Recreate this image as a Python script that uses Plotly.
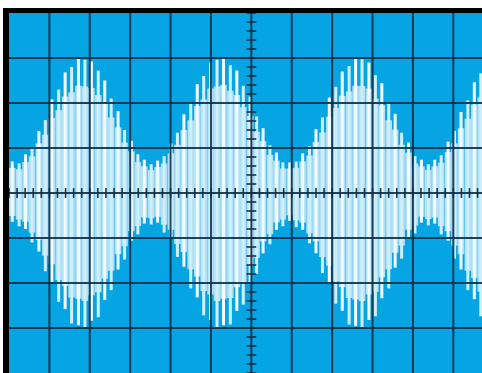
import numpy as np
import plotly.graph_objects as go

# sample positions on the screen, in divisions from the centre
t_div = [-5.92, -5.75, -5.59, -5.43, -5.26, -5.10, -4.94, -4.77, -4.61, -4.45, -4.28, -4.12,
         -3.96, -3.79, -3.63, -3.47, -3.30, -3.14, -2.97, -2.81, -2.65, -2.48, -2.32, -2.16,
         -1.99, -1.83, -1.67, -1.50, -1.34, -1.18, -1.01, -0.85, -0.69, -0.52, -0.36, -0.20,
         -0.03, 0.13, 0.29, 0.46, 0.62, 0.78, 0.95, 1.11, 1.27, 1.44, 1.60, 1.76,
         1.93, 2.09, 2.25, 2.42, 2.58, 2.74, 2.91, 3.07, 3.23, 3.40, 3.56, 3.72,
         3.89, 4.05, 4.21, 4.38, 4.54, 4.70, 4.87, 5.03, 5.19, 5.36, 5.52, 5.68]

# positive carrier peaks (div)
peak_hi = [0.70, 0.66, 0.86, 1.02, 1.38, 1.62, 2.08, 2.30, 2.68, 2.80, 2.98, 2.96, 2.92, 2.72, 2.50, 2.10, 1.82, 1.40, 1.16, 0.86, 0.74,
           0.64, 0.72, 0.82, 1.10, 1.34, 1.75, 2.02, 2.42, 2.60, 2.90, 2.96, 3.00, 2.84, 2.72, 2.38, 2.14, 1.70, 1.44, 1.06, 0.90, 0.68,
           0.68, 0.70, 0.88, 1.04, 1.42, 1.68, 2.12, 2.36, 2.70, 2.82, 2.98, 2.97, 2.90, 2.62, 2.44, 2.02, 1.76, 1.34, 1.12, 0.82, 0.74,
           0.64, 0.74, 0.84, 1.14, 1.38, 1.80, 2.06, 2.46, 2.66]

# negative carrier peaks (div, magnitude)
peak_lo = [0.64, 0.74, 0.80, 1.10, 1.30, 1.74, 1.98, 2.42, 2.58, 2.90, 2.94, 3.00, 2.84, 2.76, 2.38, 2.16, 1.70, 1.48, 1.06, 0.92, 0.68,
           0.70, 0.66, 0.88, 1.02, 1.42, 1.64, 2.12, 2.32, 2.72, 2.82, 3.00, 2.94, 2.92, 2.62, 2.48, 2.00, 1.80, 1.34, 1.14, 0.82, 0.74,
           0.62, 0.76, 0.82, 1.12, 1.34, 1.78, 2.02, 2.46, 2.62, 2.92, 2.96, 3.00, 2.82, 2.74, 2.34, 2.12, 1.66, 1.46, 1.02, 0.90, 0.66,
           0.72, 0.68, 0.92, 1.06, 1.46, 1.70, 2.16, 2.36, 2.74]

hi = np.array(peak_hi)
lo = np.array(peak_lo)

BG = "#05a4e2"
GRID = "rgba(14,45,72,0.9)"

fig = go.Figure()

# pale trace glow
fig.add_trace(go.Bar(x=t_div, y=0.8 * (hi + lo), base=-0.8 * lo, width=0.163,
                     marker=dict(color="#b2e0f5", line=dict(width=0)), hoverinfo="skip"))
# bright strokes
cols = ["#f0fcff" if i % 2 == 0 else "#cdeffb" for i in range(len(t_div))]
fig.add_trace(go.Bar(x=t_div, y=hi + lo, base=-lo, width=0.075,
                     marker=dict(color=cols, line=dict(width=0)), hoverinfo="skip"))

# centre graticule ticks
tx = np.arange(-30, 29) * 0.2
ty = np.arange(-20, 21) * 0.2
fig.add_trace(go.Scatter(x=tx, y=np.zeros_like(tx), mode="markers", hoverinfo="skip",
                         marker=dict(symbol="line-ns", size=7, line=dict(width=1.6, color="#1b3348"))))
fig.add_trace(go.Scatter(x=np.zeros_like(ty), y=ty, mode="markers", hoverinfo="skip",
                         marker=dict(symbol="line-ew", size=7, line=dict(width=1.6, color="#1b3348"))))

shapes = []
for gx in range(-5, 6):
    shapes.append(dict(type="line", xref="x", yref="paper", x0=gx, x1=gx, y0=0, y1=1,
                       line=dict(color=GRID, width=2), layer="above"))
for gy in range(-3, 4):
    shapes.append(dict(type="line", xref="paper", yref="y", x0=0, x1=1, y0=gy, y1=gy,
                       line=dict(color=GRID, width=2), layer="above"))
# black bezel on the top and left
shapes.append(dict(type="rect", xref="paper", yref="paper", x0=-6/473, x1=0, y0=0, y1=1 + 5/360,
                   fillcolor="black", line=dict(width=0), layer="above"))
shapes.append(dict(type="rect", xref="paper", yref="paper", x0=-6/473, x1=1, y0=1, y1=1 + 5/360,
                   fillcolor="black", line=dict(width=0), layer="above"))

fig.update_layout(
    width=482, height=373,
    margin=dict(l=9, r=0, t=13, b=0),
    paper_bgcolor="white", plot_bgcolor=BG,
    barmode="overlay", showlegend=False,
    shapes=shapes,
    xaxis=dict(range=[-6, 5.71], showgrid=False, zeroline=False, showticklabels=False, fixedrange=True),
    yaxis=dict(range=[-4, 4], showgrid=False, zeroline=False, showticklabels=False, fixedrange=True),
)

fig.write_html("out.html", config={"displayModeBar": False},
               post_script="document.body.style.margin='0';document.body.style.overflow='hidden';")
